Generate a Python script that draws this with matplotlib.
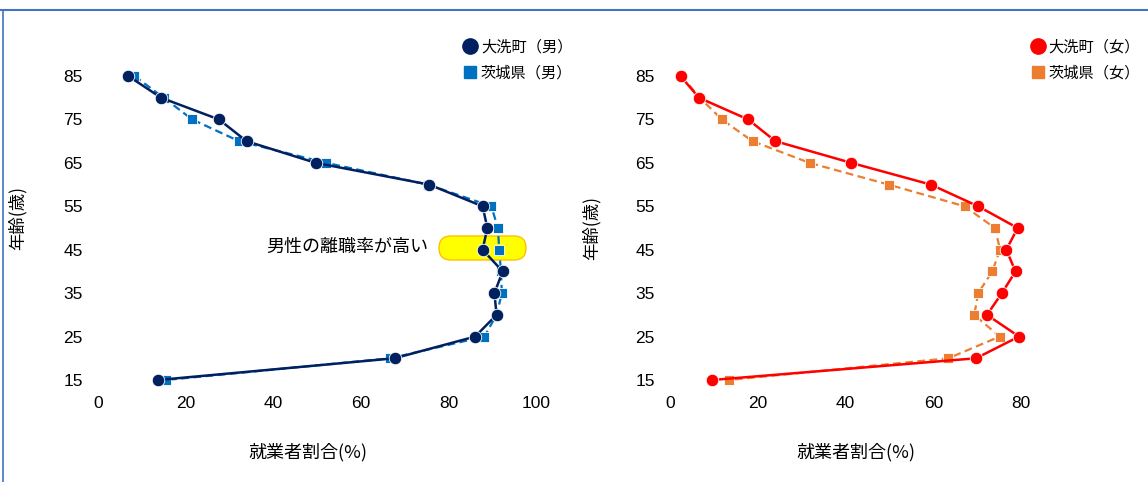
import matplotlib.pyplot as plt
from matplotlib.lines import Line2D
from matplotlib.patches import FancyBboxPatch
from matplotlib.transforms import IdentityTransform

plt.rcParams["font.family"] = ["Noto Sans CJK JP", "DejaVu Sans"]

ages = [85, 80, 75, 70, 65, 60, 55, 50, 45, 40, 35, 30, 25, 20, 15]
age_ticks = [15, 25, 35, 45, 55, 65, 75, 85]

oarai_male = [6.9, 14.4, 27.6, 33.9, 49.7, 75.6, 87.8, 88.9, 87.8, 92.4, 90.5, 91.0, 86.1, 67.7, 13.7]
ibaraki_male = [8.3, 15.0, 21.5, 32.2, 52.1, 75.3, 89.8, 91.3, 91.6, 92.0, 92.2, 91.0, 88.2, 66.7, 15.5]
oarai_female = [2.4, 6.6, 17.8, 24.0, 41.3, 59.4, 70.2, 79.2, 76.6, 78.7, 75.6, 72.2, 79.5, 69.7, 9.6]
ibaraki_female = [2.6, 6.8, 11.8, 18.8, 31.8, 49.8, 67.1, 74.0, 75.2, 73.4, 70.2, 69.3, 75.1, 63.4, 13.4]

labels_male = ["大洗町（男）", "茨城県（男）"]
labels_female = ["大洗町（女）", "茨城県（女）"]
note_text = "男性の離職率が高い"

NAVY = "#002060"
BLUE = "#0070C0"
RED = "#FF0000"
ORANGE = "#ED7D31"
TICK_FONT = "Liberation Sans"

fig = plt.figure(figsize=(11.48, 4.82), dpi=100)
ax_m = fig.add_axes([0.0854, 0.1846, 0.3815, 0.6847])
ax_f = fig.add_axes([0.5836, 0.1846, 0.3442, 0.6847])


def draw_panel(ax, town, pref, c_town, c_pref, labels, xmax, xticks, legend_x):
    ax.plot(pref, ages, color=c_pref, linestyle=(0, (3.5, 2)), linewidth=1.6,
            marker="s", markersize=7.5, markeredgecolor="white",
            markeredgewidth=0.6, zorder=3)
    ax.plot(town, ages, color=c_town, linewidth=1.8, marker="o",
            markersize=9, markeredgecolor="white", markeredgewidth=0.6,
            zorder=4)
    ax.set_xlim(0, xmax)
    ax.set_ylim(12, 88)
    ax.set_xticks(xticks)
    ax.set_yticks(age_ticks)
    for lab in ax.get_xticklabels() + ax.get_yticklabels():
        lab.set_fontfamily(TICK_FONT)
        lab.set_fontsize(12.5)
    ax.tick_params(axis="x", length=0, pad=2)
    ax.tick_params(axis="y", length=0, pad=11)
    for s in ax.spines.values():
        s.set_visible(False)
    ax.set_ylabel("年齢(歳)", fontsize=12.5)
    ax.set_xlabel("就業者割合(%)", fontsize=13)

    handles = [
        Line2D([], [], color=c_town, marker="o", linestyle="none",
               markersize=11),
        Line2D([], [], color=c_pref, marker="s", linestyle="none",
               markersize=9),
    ]
    ax.legend(handles, labels, loc="upper left",
              bbox_to_anchor=(legend_x, 1.093), frameon=False,
              fontsize=11, handlelength=0.8, handletextpad=0.3,
              labelspacing=0.6, borderaxespad=0)


draw_panel(ax_m, oarai_male, ibaraki_male, NAVY, BLUE, labels_male,
           100, [0, 20, 40, 60, 80, 100], 0.822)
draw_panel(ax_f, oarai_female, ibaraki_female, RED, ORANGE, labels_female,
           90, [0, 20, 40, 60, 80], 0.90)

ax_m.xaxis.set_label_coords(0.48, -0.15)
ax_f.xaxis.set_label_coords(0.47, -0.15)
ax_m.yaxis.set_label_coords(-0.162, 0.53)
ax_f.yaxis.set_label_coords(-0.175, 0.5)

# highlight box for the 40s dip (pixel coordinates of the figure)
box = FancyBboxPatch((439, 222), 87, 24,
                     boxstyle="round,pad=0,rounding_size=12",
                     transform=IdentityTransform(),
                     facecolor="#FFFF00", edgecolor="#FFC000",
                     linewidth=1.0, zorder=2)
ax_m.add_patch(box)
ax_m.text(75.5, 45.7, note_text, ha="right", va="center", fontsize=13,
          zorder=5)

# outer frame lines
fig.add_artist(Line2D([0, 1], [0.979, 0.979], color="#4472C4",
                      linewidth=1.5, transform=fig.transFigure))
fig.add_artist(Line2D([0.003, 0.003], [0, 0.979], color="#4472C4",
                      linewidth=1.2, transform=fig.transFigure))

fig.savefig("out.png", dpi=100)
